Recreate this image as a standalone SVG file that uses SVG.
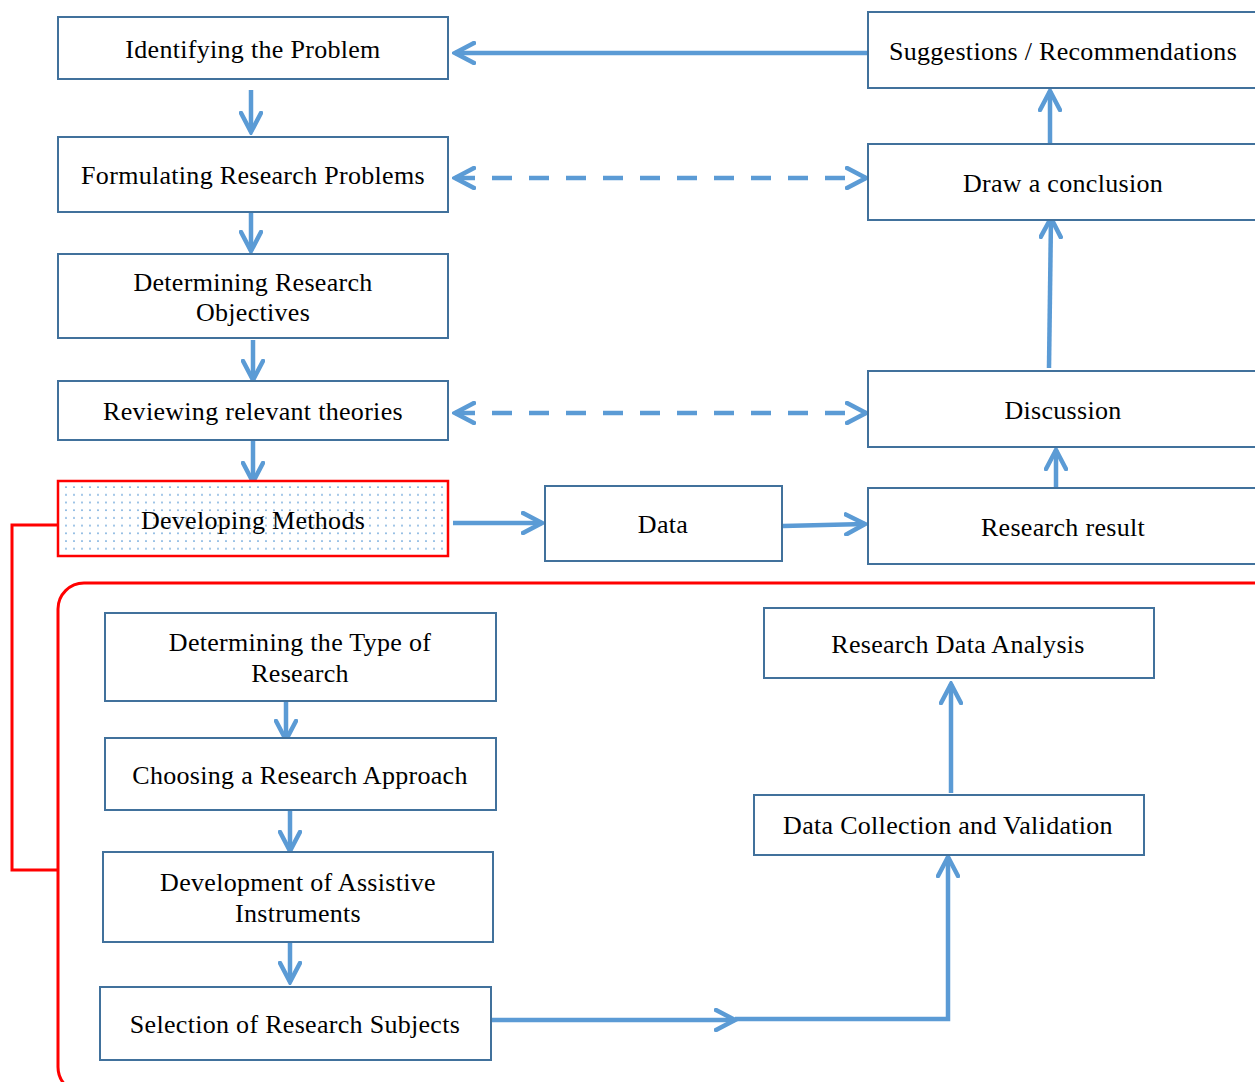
<svg xmlns="http://www.w3.org/2000/svg" width="1255" height="1082" viewBox="0 0 1255 1082">
<defs>
<style>
.box{fill:#fff;stroke:#41719c;stroke-width:2}
.t{font-family:"Liberation Serif","Times New Roman",serif;font-size:26px;letter-spacing:0.3px;fill:#000;text-anchor:middle;dominant-baseline:central}
.c{fill:none;stroke:#5b9bd5;stroke-width:4.5;marker-end:url(#ah)}
.d{fill:none;stroke:#5b9bd5;stroke-width:4.5;stroke-dasharray:20 17;marker-end:url(#ah);marker-start:url(#ah)}
.red{fill:none;stroke:#ff0000;stroke-width:3}
</style>
<marker id="ah" viewBox="0 0 24 24" refX="21" refY="12" markerWidth="24" markerHeight="24" markerUnits="userSpaceOnUse" orient="auto-start-reverse">
<path d="M2,2 L21,12 L2,22" fill="none" stroke="#5b9bd5" stroke-width="4.5" stroke-linecap="round" stroke-linejoin="miter"/>
</marker>
<pattern id="dots" width="8" height="7.7" patternUnits="userSpaceOnUse">
<circle cx="2" cy="2" r="0.9" fill="#5b9bd5"/>
</pattern>
</defs>
<rect width="1255" height="1082" fill="#fff"/>

<g id="container">
<rect class="red" x="58" y="583" width="1222" height="510" rx="26" ry="26"/>
<path class="red" d="M58,525 H12 V870 H58" stroke-width="4"/>
</g>

<g id="connectors">
<line class="c" x1="251" y1="90" x2="251" y2="132"/>
<line class="c" x1="251" y1="213" x2="251" y2="251"/>
<line class="c" x1="253" y1="340" x2="253" y2="380"/>
<line class="c" x1="253" y1="441" x2="253" y2="482"/>
<line class="c" x1="868" y1="53" x2="455" y2="53"/>
<line class="d" x1="455" y1="178" x2="866" y2="178"/>
<line class="d" x1="455" y1="413" x2="866" y2="413"/>
<line class="c" x1="453" y1="523" x2="542" y2="523"/>
<line class="c" x1="783" y1="526" x2="865" y2="524"/>
<line class="c" x1="1056" y1="490" x2="1056" y2="450"/>
<line class="c" x1="1049" y1="368" x2="1051" y2="218"/>
<line class="c" x1="1050" y1="150" x2="1050" y2="91"/>
<line class="c" x1="286" y1="701" x2="286" y2="740"/>
<line class="c" x1="290" y1="810" x2="290" y2="851"/>
<line class="c" x1="290" y1="938" x2="290" y2="982"/>
<line class="c" x1="492" y1="1020" x2="735" y2="1020"/>
<path class="c" d="M735,1019 H948 V857"/>
<line class="c" x1="951" y1="793" x2="951" y2="684"/>
</g>

<g id="n-identifying"><rect class="box" x="58" y="17" width="390" height="62"/><text class="t" x="253" y="49">Identifying the Problem</text></g>
<g id="n-formulating"><rect class="box" x="58" y="137" width="390" height="75"/><text class="t" x="253" y="175">Formulating Research Problems</text></g>
<g id="n-objectives"><rect class="box" x="58" y="254" width="390" height="84"/><text class="t" x="253" y="282">Determining Research</text><text class="t" x="253" y="312">Objectives</text></g>
<g id="n-reviewing"><rect class="box" x="58" y="381" width="390" height="59"/><text class="t" x="253" y="411">Reviewing relevant theories</text></g>
<g id="n-methods"><rect x="58" y="481" width="390" height="75" fill="#fff" stroke="#ff0000" stroke-width="2.5"/><rect x="60" y="483" width="386" height="71" fill="url(#dots)"/><text class="t" x="253" y="520">Developing Methods</text></g>
<g id="n-data"><rect class="box" x="545" y="486" width="237" height="75"/><text class="t" x="663" y="524">Data</text></g>
<g id="n-result"><rect class="box" x="868" y="488" width="400" height="76"/><text class="t" x="1063" y="527">Research result</text></g>
<g id="n-discussion"><rect class="box" x="868" y="371" width="400" height="76"/><text class="t" x="1063" y="410">Discussion</text></g>
<g id="n-conclusion"><rect class="box" x="868" y="144" width="400" height="76"/><text class="t" x="1063" y="183">Draw a conclusion</text></g>
<g id="n-suggestions"><rect class="box" x="868" y="12" width="400" height="76"/><text class="t" x="1063" y="51">Suggestions / Recommendations</text></g>

<g id="n-type"><rect class="box" x="105" y="613" width="391" height="88"/><text class="t" x="300" y="642">Determining the Type of</text><text class="t" x="300" y="673">Research</text></g>
<g id="n-approach"><rect class="box" x="105" y="738" width="391" height="72"/><text class="t" x="300" y="775">Choosing a Research Approach</text></g>
<g id="n-instruments"><rect class="box" x="103" y="852" width="390" height="90"/><text class="t" x="298" y="882">Development of Assistive</text><text class="t" x="298" y="913">Instruments</text></g>
<g id="n-subjects"><rect class="box" x="100" y="987" width="391" height="73"/><text class="t" x="295" y="1024">Selection of Research Subjects</text></g>
<g id="n-analysis"><rect class="box" x="764" y="608" width="390" height="70"/><text class="t" x="958" y="644">Research Data Analysis</text></g>
<g id="n-collection"><rect class="box" x="754" y="795" width="390" height="60"/><text class="t" x="948" y="825">Data Collection and Validation</text></g>
</svg>
